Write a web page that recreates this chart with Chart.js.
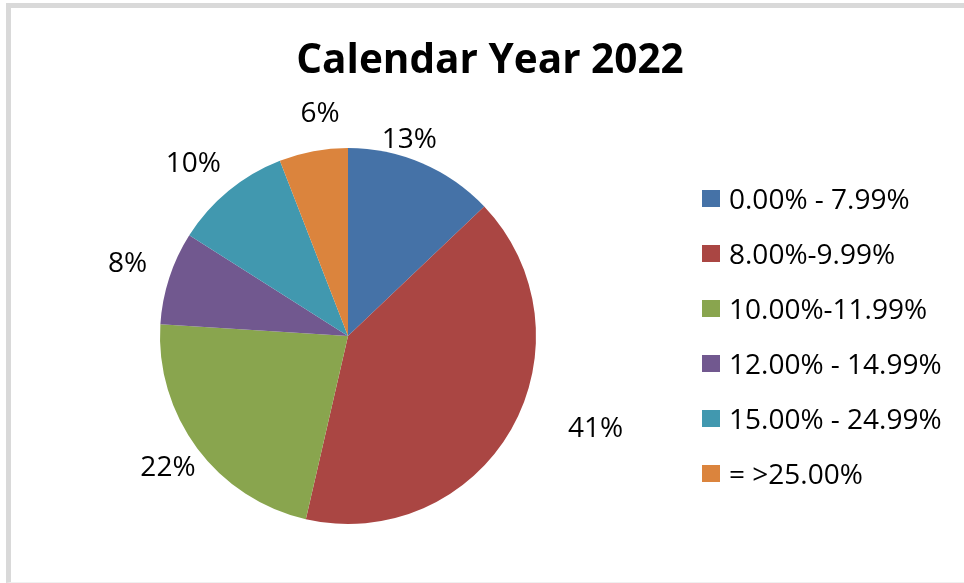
<!DOCTYPE html>
<html>
<head>
<meta charset="utf-8">
<title>Calendar Year 2022</title>
<script src="https://cdn.jsdelivr.net/npm/chart.js@4.4.0/dist/chart.umd.min.js"></script>
<style>
  html, body { margin: 0; padding: 0; background: #fff; }
  body { width: 964px; height: 583px; overflow: hidden; position: relative; }
  #frame {
    position: absolute; left: 6px; top: 3px; width: 1000px; height: 580px;
    border-left: 5px solid #d9d9d9; border-top: 5px solid #d9d9d9;
    border-bottom: 1px solid #f0f0f0; box-sizing: border-box;
  }
  #chart { position: absolute; left: 0; top: 0; }
</style>
</head>
<body>
<div id="frame"></div>
<canvas id="chart" width="964" height="583"></canvas>
<script>
// data
const chartTitle = 'Calendar Year 2022';
const rateBands = ['0.00% - 7.99%', '8.00%-9.99%', '10.00%-11.99%', '12.00% - 14.99%', '15.00% - 24.99%', '= >25.00%'];
const shareValues = [12.9, 40.7, 22.4, 8.0, 10.1, 5.9];
const sliceColors = ['#4572A7', '#AA4643', '#89A54E', '#71588F', '#4198AF', '#DB843D'];

const FONT = '"Open Sans", "Liberation Sans", sans-serif';

// title, outside labels and legend drawn on top of the pie
const pieDecor = {
  id: 'pieDecor',
  afterDraw(chart, args, opts) {
    const ctx = chart.ctx;
    const arcs = chart.getDatasetMeta(0).data;
    ctx.save();
    ctx.fillStyle = '#000';

    // title
    ctx.font = opts.titleFont;
    ctx.textAlign = 'center';
    ctx.textBaseline = 'alphabetic';
    ctx.fillText(chartTitle, opts.titleX, opts.titleBaseline);

    // percentage labels outside each slice
    ctx.font = opts.labelFont;
    const capH = ctx.measureText('0').actualBoundingBoxAscent;
    arcs.forEach((arc, i) => {
      const p = arc.getProps(['x', 'y', 'startAngle', 'endAngle', 'outerRadius'], true);
      const mid = (p.startAngle + p.endAngle) / 2;
      const ux = Math.cos(mid), uy = Math.sin(mid);
      const text = Math.round(shareValues[i]) + '%';
      const hw = ctx.measureText(text).width / 2;
      const hh = capH / 2;
      const d = p.outerRadius + opts.labelGap + Math.abs(ux) * hw + Math.abs(uy) * hh;
      const nudge = opts.labelNudge[i] || [0, 0];
      ctx.fillText(text, p.x + ux * d + nudge[0], p.y + uy * d + nudge[1] + hh);
    });

    // legend
    ctx.font = opts.legendFont;
    ctx.textAlign = 'left';
    const legCap = ctx.measureText('0').actualBoundingBoxAscent;
    rateBands.forEach((label, i) => {
      const top = opts.legendTop + i * opts.legendRow;
      ctx.fillStyle = sliceColors[i];
      ctx.fillRect(opts.legendX, top, opts.boxW, opts.boxH);
      ctx.fillStyle = '#000';
      ctx.fillText(label, opts.legendTextX, top + opts.boxH / 2 + legCap / 2);
    });
    ctx.restore();
  }
};

new Chart(document.getElementById('chart'), {
  type: 'pie',
  data: {
    labels: rateBands,
    datasets: [{
      data: shareValues,
      backgroundColor: sliceColors,
      borderWidth: 0,
      hoverBorderWidth: 0,
      hoverOffset: 0
    }]
  },
  options: {
    responsive: false,
    animation: false,
    events: [],
    layout: { padding: { left: 160, right: 428, top: 148, bottom: 59 } },
    plugins: {
      legend: { display: false },
      tooltip: { enabled: false },
      pieDecor: {
        titleFont: 'bold 40.5px ' + FONT,
        titleX: 490,
        titleBaseline: 73,
        labelFont: '28px ' + FONT,
        labelGap: 21,
        labelNudge: [[-29, 13], [41, -27], [10, -12], [-1, -3], [-6, 7], [13, -5]],
        legendFont: '28px ' + FONT,
        legendX: 702,
        legendTop: 190,
        legendRow: 55,
        boxW: 18,
        boxH: 17,
        legendTextX: 729
      }
    }
  },
  plugins: [pieDecor]
});
</script>
</body>
</html>
